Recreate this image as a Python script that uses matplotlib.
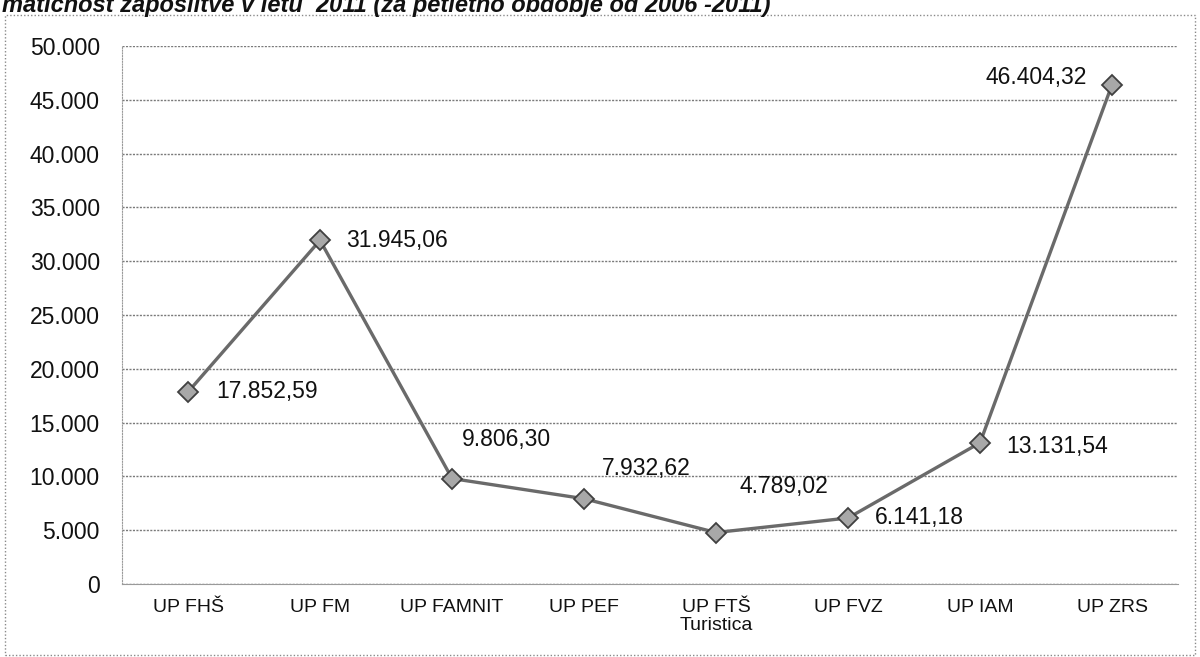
import matplotlib.pyplot as plt
from matplotlib.patches import Rectangle
from matplotlib.ticker import FuncFormatter

plt.rcParams['font.family'] = ['Liberation Sans', 'DejaVu Sans']

categories = ["UP FHŠ", "UP FM", "UP FAMNIT", "UP PEF", "UP FTŠ\nTuristica",
              "UP FVZ", "UP IAM", "UP ZRS"]
values = [17852.59, 31945.06, 9806.30, 7932.62, 4789.02, 6141.18, 13131.54, 46404.32]
point_labels = ["17.852,59", "31.945,06", "9.806,30", "7.932,62", "4.789,02",
                "6.141,18", "13.131,54", "46.404,32"]
y_ticks = list(range(0, 50001, 5000))

# label offsets in points (dx, dy, horizontal alignment)
offsets = [(20, 0, 'left'), (19, 0, 'left'), (7, 28, 'left'), (13, 22, 'left'),
           (17, 33, 'left'), (19, 0, 'left'), (19, -3, 'left'), (-18, 5, 'right')]


def thousands(v, pos):
    if v == 0:
        return "0"
    return "{:,.0f}".format(v).replace(",", ".")


fig = plt.figure(figsize=(12, 6.57), dpi=100)
ax = fig.add_axes([0.1017, 0.111, 0.88, 0.819])

x = list(range(len(categories)))
ax.plot(x, values, color='#6a6a6a', linewidth=2.4, marker='D', markersize=10,
        markerfacecolor='#a8a8a8', markeredgecolor='#404040', markeredgewidth=1.3,
        zorder=3)

for i, (v, lab) in enumerate(zip(values, point_labels)):
    dx, dy, ha = offsets[i]
    ax.annotate(lab, (i, v), xytext=(dx, dy), textcoords='offset points',
                ha=ha, va='center', fontsize=16.5, color='#111111')

ax.set_xlim(-0.5, len(categories) - 0.5)
ax.set_ylim(0, 50000)
ax.set_yticks(y_ticks)
ax.yaxis.set_major_formatter(FuncFormatter(thousands))
ax.set_xticks(x)
ax.set_xticklabels(categories, fontsize=14, color='#111111', linespacing=1.05)
ax.tick_params(axis='y', length=0, pad=16, labelsize=16.5, labelcolor='#111111')
ax.tick_params(axis='x', length=0, pad=11)

ax.grid(axis='y', color='#7a7a7a', linestyle=(0, (1.5, 1)), linewidth=1.0)
ax.set_axisbelow(True)
for side in ['top', 'right']:
    ax.spines[side].set_visible(False)
ax.spines['left'].set_color('#9a9a9a')
ax.spines['left'].set_linestyle((0, (1, 1.5)))
ax.spines['bottom'].set_color('#9a9a9a')
ax.spines['bottom'].set_linestyle((0, (1.5, 1)))

# outer dotted frame of the chart
fig.patches.append(Rectangle((5 / 1200, 2 / 657), 1190 / 1200, 640 / 657,
                             transform=fig.transFigure, fill=False,
                             edgecolor='#8a8a8a', linewidth=1.0,
                             linestyle=(0, (1, 1.5))))

# title cut off at the top edge of the scan, as in the reference
fig.text(0.002, 1 - 12 / 657,
         "matičnost zaposlitve v letu  2011 (za petletno obdobje od 2006 -2011)",
         fontsize=17, fontweight='bold', fontstyle='italic', color='#111111',
         ha='left', va='baseline')

fig.savefig("out.png", dpi=100)
